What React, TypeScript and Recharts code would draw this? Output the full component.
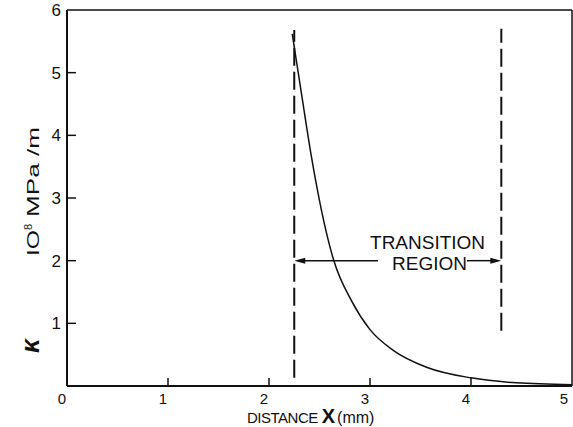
import React from 'react';
import { LineChart, Line, XAxis, YAxis, ReferenceLine, ReferenceDot } from 'recharts';

const distance = [2.23, 2.32, 2.42, 2.52, 2.64, 2.82, 3.0, 3.23, 3.56, 4.0, 4.45, 5.0];
const kappa = [5.62, 4.68, 3.66, 2.8, 2.01, 1.35, 0.9, 0.57, 0.3, 0.13, 0.05, 0.02];

const xTicks = [0, 1, 2, 3, 4, 5];
const yTicks = [0, 1, 2, 3, 4, 5, 6];

// dashed boundaries of the transition region
const leftEdge = { x: 2.25, from: 0.13, to: 5.68 };
const rightEdge = { x: 4.3, from: 0.88, to: 5.7 };
const arrowY = 2;
const arrowLeft = [3.08, 2.25];
const arrowRight = [3.96, 4.3];
const noteAt = { x: 3.57, y: 2 };

const data = distance.map((x, i) => ({ x, k: kappa[i] }));

const font = '"Liberation Sans", Arial, sans-serif';

const YTick = (props: any) => {
  const { x, y, payload } = props;
  const v = payload.value;
  return (
    <g>
      {v > 0 && v < 6 && <line x1={x + 6} x2={x + 15} y1={y} y2={y} stroke="#111" strokeWidth={1.5} />}
      {v > 0 && (
        <text x={x} y={y + 6} textAnchor="end" fontSize={17} fontFamily={font} fill="#111">
          {v}
        </text>
      )}
    </g>
  );
};

const XTick = (props: any) => {
  const { x, y, payload } = props;
  const v = payload.value;
  return (
    <g>
      {v > 0 && v < 5 && <line x1={x} x2={x} y1={y} y2={y - 8} stroke="#111" strokeWidth={1.5} />}
      <text x={x - 5} y={y + 18} textAnchor="middle" fontSize={15} fontFamily={font} fill="#111">
        {v}
      </text>
    </g>
  );
};

const Arrow = (props: any) => {
  const { x1, y1, x2, y2 } = props;
  const dir = x2 > x1 ? 1 : -1;
  return (
    <g>
      <line x1={x1} y1={y1} x2={x2 - dir * 6} y2={y2} stroke="#111" strokeWidth={1.5} />
      <path d={`M${x2},${y2} L${x2 - dir * 11},${y2 - 3} L${x2 - dir * 11},${y2 + 3} Z`} fill="#111" />
    </g>
  );
};

const Note = (props: any) => {
  const { cx, cy } = props;
  return (
    <g fontFamily={font} fontSize={19} fill="#111" textAnchor="middle">
      <text x={cx} y={cy - 12}>TRANSITION</text>
      <text x={cx + 2} y={cy + 9}>REGION</text>
    </g>
  );
};

export default function App() {
  return (
    <div style={{ position: 'fixed', left: 0, top: 0, width: 573, height: 427, background: '#fff' }}>
      <LineChart width={573} height={427} data={data} margin={{ top: 10, right: 1, left: 0, bottom: 0 }}>
        <XAxis
          dataKey="x"
          type="number"
          domain={[0, 5]}
          ticks={xTicks}
          height={41}
          tickSize={0}
          tickMargin={0}
          tick={<XTick />}
          tickLine={false}
          axisLine={{ stroke: '#111', strokeWidth: 2 }}
        />
        <YAxis
          type="number"
          domain={[0, 6]}
          ticks={yTicks}
          width={67}
          tickSize={0}
          tickMargin={6}
          tick={<YTick />}
          tickLine={false}
          axisLine={{ stroke: '#111', strokeWidth: 2 }}
        />
        <ReferenceLine y={6} stroke="#111" strokeWidth={1.5} />
        <ReferenceLine x={5} stroke="#111" strokeWidth={1.5} />
        <ReferenceLine
          segment={[{ x: leftEdge.x, y: leftEdge.from }, { x: leftEdge.x, y: leftEdge.to }]}
          stroke="#111"
          strokeWidth={2}
          strokeDasharray="18 6"
        />
        <ReferenceLine
          segment={[{ x: rightEdge.x, y: rightEdge.from }, { x: rightEdge.x, y: rightEdge.to }]}
          stroke="#111"
          strokeWidth={2}
          strokeDasharray="18 6"
        />
        <ReferenceLine
          segment={[{ x: arrowLeft[0], y: arrowY }, { x: arrowLeft[1], y: arrowY }]}
          shape={<Arrow />}
        />
        <ReferenceLine
          segment={[{ x: arrowRight[0], y: arrowY }, { x: arrowRight[1], y: arrowY }]}
          shape={<Arrow />}
        />
        <ReferenceDot x={noteAt.x} y={noteAt.y} r={0} shape={<Note />} />
        <Line
          dataKey="k"
          type="monotone"
          stroke="#111"
          strokeWidth={1.5}
          dot={false}
          isAnimationActive={false}
        />
      </LineChart>
      <svg width={573} height={427} style={{ position: 'absolute', left: 0, top: 0, pointerEvents: 'none' }}>
        <g fill="#111" fontFamily={font}>
          <text
            transform="translate(39,346) rotate(-90)"
            textAnchor="middle"
            fontSize={25}
            fontWeight="bold"
            fontStyle="italic"
          >
            κ
          </text>
          <text transform="translate(39,240) rotate(-90)" textAnchor="middle" fontSize={17}>
            <tspan textLength={26} lengthAdjust="spacingAndGlyphs">IO</tspan>
            <tspan fontSize={11} dy={-7}>8</tspan>
          </text>
          <text
            transform="translate(39,172) rotate(-90)"
            textAnchor="middle"
            fontSize={17}
            textLength={90}
            lengthAdjust="spacingAndGlyphs"
          >
            MPa /m
          </text>
          <text x={247} y={423}>
            <tspan fontSize={15} letterSpacing={-0.5}>DISTANCE</tspan>
            <tspan fontSize={20} fontWeight="bold" dx={4}>X</tspan>
            <tspan fontSize={16} dx={2}>(mm)</tspan>
          </text>
        </g>
      </svg>
    </div>
  );
}
